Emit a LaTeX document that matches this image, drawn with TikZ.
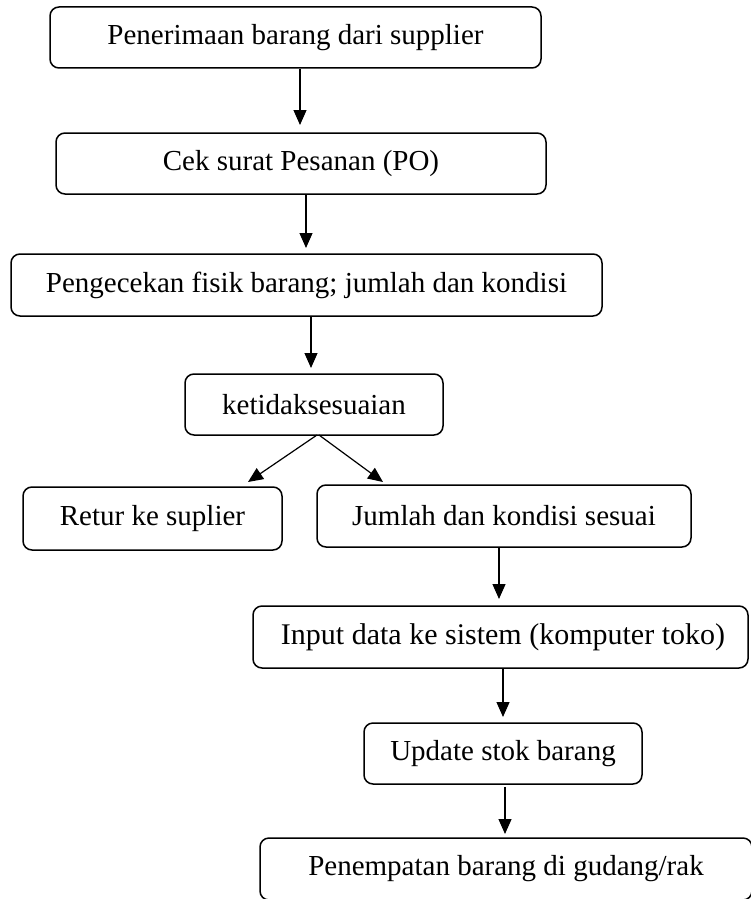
\documentclass[tikz,border=0pt]{standalone}
\usepackage{fontspec}
\setmainfont{Liberation Serif}
\usetikzlibrary{arrows.meta}
\begin{document}
\begin{tikzpicture}[x=1pt,y=-1pt,
  box/.style={draw, line width=1.5pt, rounded corners=9pt, inner sep=0pt, align=center,
    font=\fontsize{29}{34}\selectfont},
  arr/.style={line width=1.2pt, -{Triangle[length=15pt,width=13pt]}}]
\useasboundingbox (0,0) rectangle (750,899);
\node[box, minimum width=491pt, minimum height=61pt] (b1) at (295.5,37.5) {Penerimaan barang dari supplier};
\node[box, minimum width=490pt, minimum height=61pt] (b2) at (301,163.5) {Cek surat Pesanan (PO)};
\node[box, minimum width=591pt, minimum height=62pt] (b3) at (306.5,285) {Pengecekan fisik barang; jumlah dan kondisi};
\node[box, minimum width=258pt, minimum height=61pt] (b4) at (314,404.5) {ketidaksesuaian};
\node[box, minimum width=259pt, minimum height=63pt] (b5) at (152.5,518.5) {Retur ke suplier};
\node[box, minimum width=374pt, minimum height=62pt] (b6) at (504,516) {Jumlah dan kondisi sesuai};
\node[box, minimum width=495pt, minimum height=62pt, font=\fontsize{30}{35}\selectfont] (b7) at (500.5,637) {\hspace*{5pt}Input data ke sistem (komputer toko)};
\node[box, minimum width=278pt, minimum height=61pt] (b8) at (503,753.5) {Update stok barang};
\node[box, minimum width=492pt, minimum height=62pt] (b9) at (506,869) {Penempatan barang di gudang/rak};
\coordinate (t1) at (300,125);
\coordinate (t2) at (306,248);
\coordinate (t3) at (311,368);
\coordinate (s4l) at (317,435);
\coordinate (s4r) at (319,435);
\coordinate (t5) at (248,482);
\coordinate (t6) at (383,482);
\coordinate (t7) at (499,599);
\coordinate (t8) at (503,717);
\coordinate (t9) at (505,834);
\draw[arr] (b1.south -| t1) -- (t1);
\draw[arr] (b2.south -| t2) -- (t2);
\draw[arr] (b3.south -| t3) -- (t3);
\draw[arr] (s4l) -- (t5);
\draw[arr] (s4r) -- (t6);
\draw[arr] (b6.south -| t7) -- (t7);
\draw[arr] (b7.south -| t8) -- (t8);
\draw[arr] ([yshift=-2pt]b8.south -| t9) -- (t9);
\end{tikzpicture}
\end{document}
